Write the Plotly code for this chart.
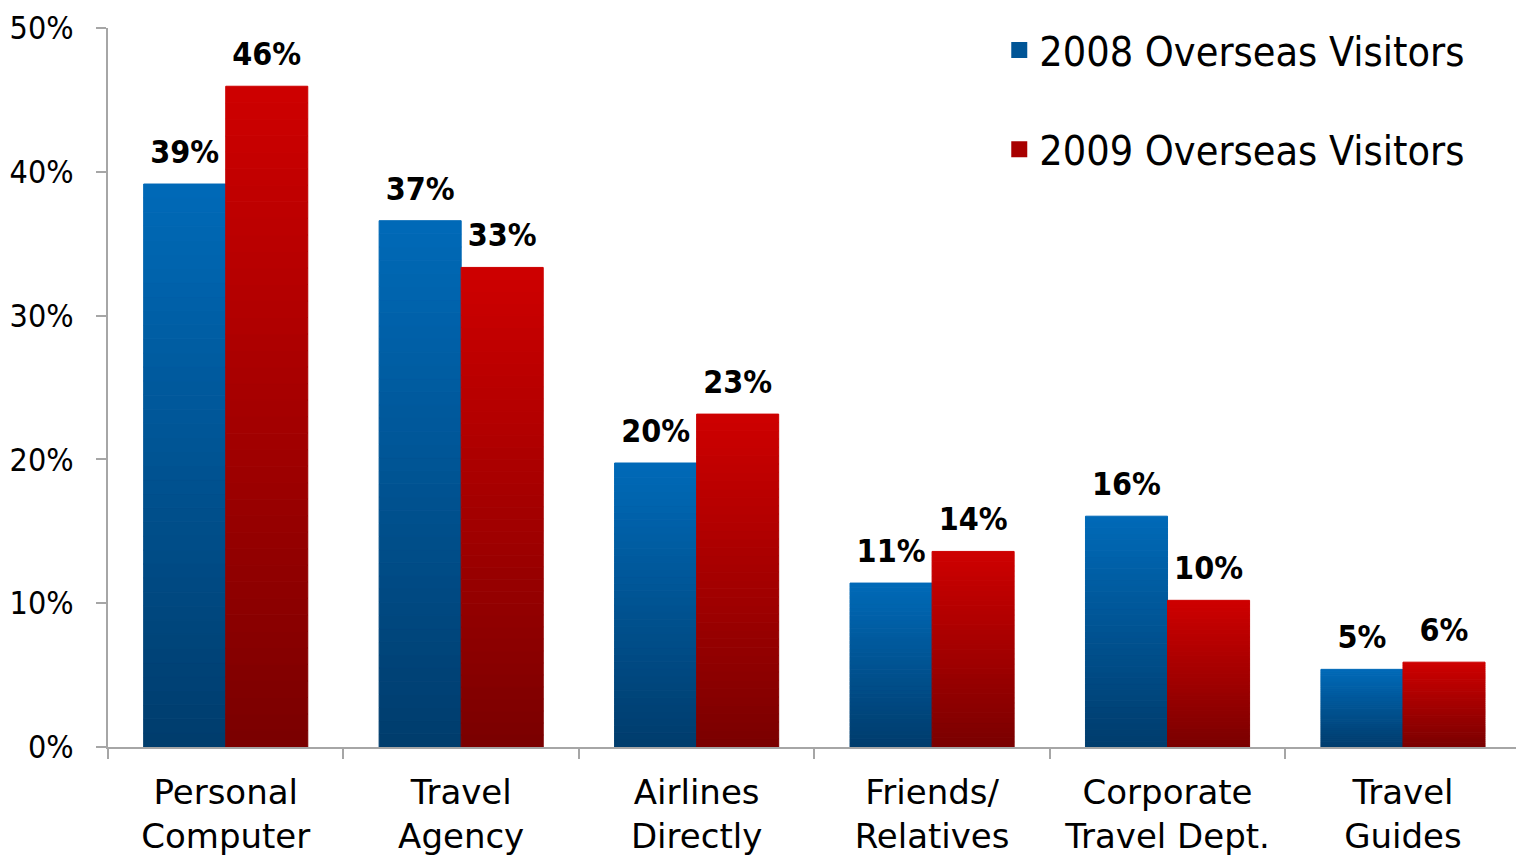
import plotly.graph_objects as go

# Booking sources used by overseas visitors (share of respondents, %)
categories = ["Personal<br>Computer", "Travel<br>Agency", "Airlines<br>Directly",
              "Friends/<br>Relatives", "Corporate<br>Travel Dept.", "Travel<br>Guides"]
visitors_2008 = [39.15, 36.6, 19.75, 11.4, 16.05, 5.4]
visitors_2009 = [45.95, 33.35, 23.15, 13.6, 10.2, 5.9]
series_names = ["2008 Overseas Visitors", "2009 Overseas Visitors"]
y_ticks = [0, 10, 20, 30, 40, 50]
y_tick_labels = ["0%", "10%", "20%", "30%", "40%", "50%"]

FONT = "DejaVu Sans Condensed"
FONT_WIDE = "DejaVu Sans"
N_STEPS = 40      # slices per bar for the vertical colour ramp
LABEL_PAD = 0.7   # gap between a bar top and its value label, in axis units

# (top colour, bottom colour) of each series' ramp
ramps = {
    series_names[0]: ((0, 106, 184), (0, 60, 108)),
    series_names[1]: ((206, 0, 0), (122, 0, 0)),
}


def mix(top, bottom, t):
    """t = 0 at the bottom of the bar, 1 at the top."""
    return "rgb({},{},{})".format(*[round(b + (a - b) * t) for a, b in zip(top, bottom)])


fig = go.Figure()

for name, values in zip(series_names, [visitors_2008, visitors_2009]):
    top, bottom = ramps[name]
    for k in range(N_STEPS):
        t = (k + 0.5) / N_STEPS
        c = mix(top, bottom, t)
        fig.add_trace(go.Bar(
            x=categories,
            y=[v / N_STEPS for v in values],
            base=[v * k / N_STEPS for v in values],
            offsetgroup=name,
            marker=dict(color=c, line=dict(width=1, color=c)),
            showlegend=False,
            hoverinfo="skip",
        ))
    # invisible carrier placing the value label just above each bar
    fig.add_trace(go.Bar(
        x=categories,
        y=[v + LABEL_PAD for v in values],
        customdata=values,
        offsetgroup=name,
        marker=dict(color="rgba(0,0,0,0)", line=dict(width=0)),
        texttemplate="%{customdata:.0f}%",
        textposition="outside",
        textfont=dict(family=FONT, size=32, color="#000000", weight="bold"),
        cliponaxis=False,
        showlegend=False,
        hoverinfo="skip",
        name=name,
    ))
    # legend entry
    fig.add_trace(go.Scatter(
        x=[None], y=[None], mode="markers", name=name,
        legendgroup=name,
        marker=dict(symbol="square", size=16, color=mix(top, bottom, 0.55)),
    ))

fig.update_layout(
    width=1516, height=856,
    margin=dict(l=108, r=0, t=28, b=109),
    paper_bgcolor="white", plot_bgcolor="white",
    barmode="group", bargap=0.303, bargroupgap=0,
    showlegend=True,
    legend=dict(
        x=0.633, y=1.0156, xanchor="left", yanchor="top",
        font=dict(family=FONT, size=41, color="#000000"),
        tracegroupgap=43,
        bgcolor="rgba(0,0,0,0)",
        itemclick=False,
    ),
    font=dict(family=FONT, color="#000000"),
)

fig.update_xaxes(
    type="category", range=[-0.5, 5.48],
    showline=True, linecolor="#A6A6A6", linewidth=2,
    ticks="outside", tickson="boundaries", ticklen=10, tickwidth=2, tickcolor="#A6A6A6",
    tickfont=dict(family=FONT_WIDE, size=34, color="#000000"),
    ticklabelstandoff=14,
    showgrid=False, zeroline=False, automargin=False,
)
fig.update_yaxes(
    range=[0, 50], tickvals=y_ticks, ticktext=y_tick_labels,
    showline=True, linecolor="#A6A6A6", linewidth=2,
    ticks="outside", ticklen=10, tickwidth=2, tickcolor="#A6A6A6",
    tickfont=dict(family=FONT, size=32, color="#000000"),
    ticklabelstandoff=16,
    showgrid=False, zeroline=False, automargin=False,
)

fig.write_html("out.html")
